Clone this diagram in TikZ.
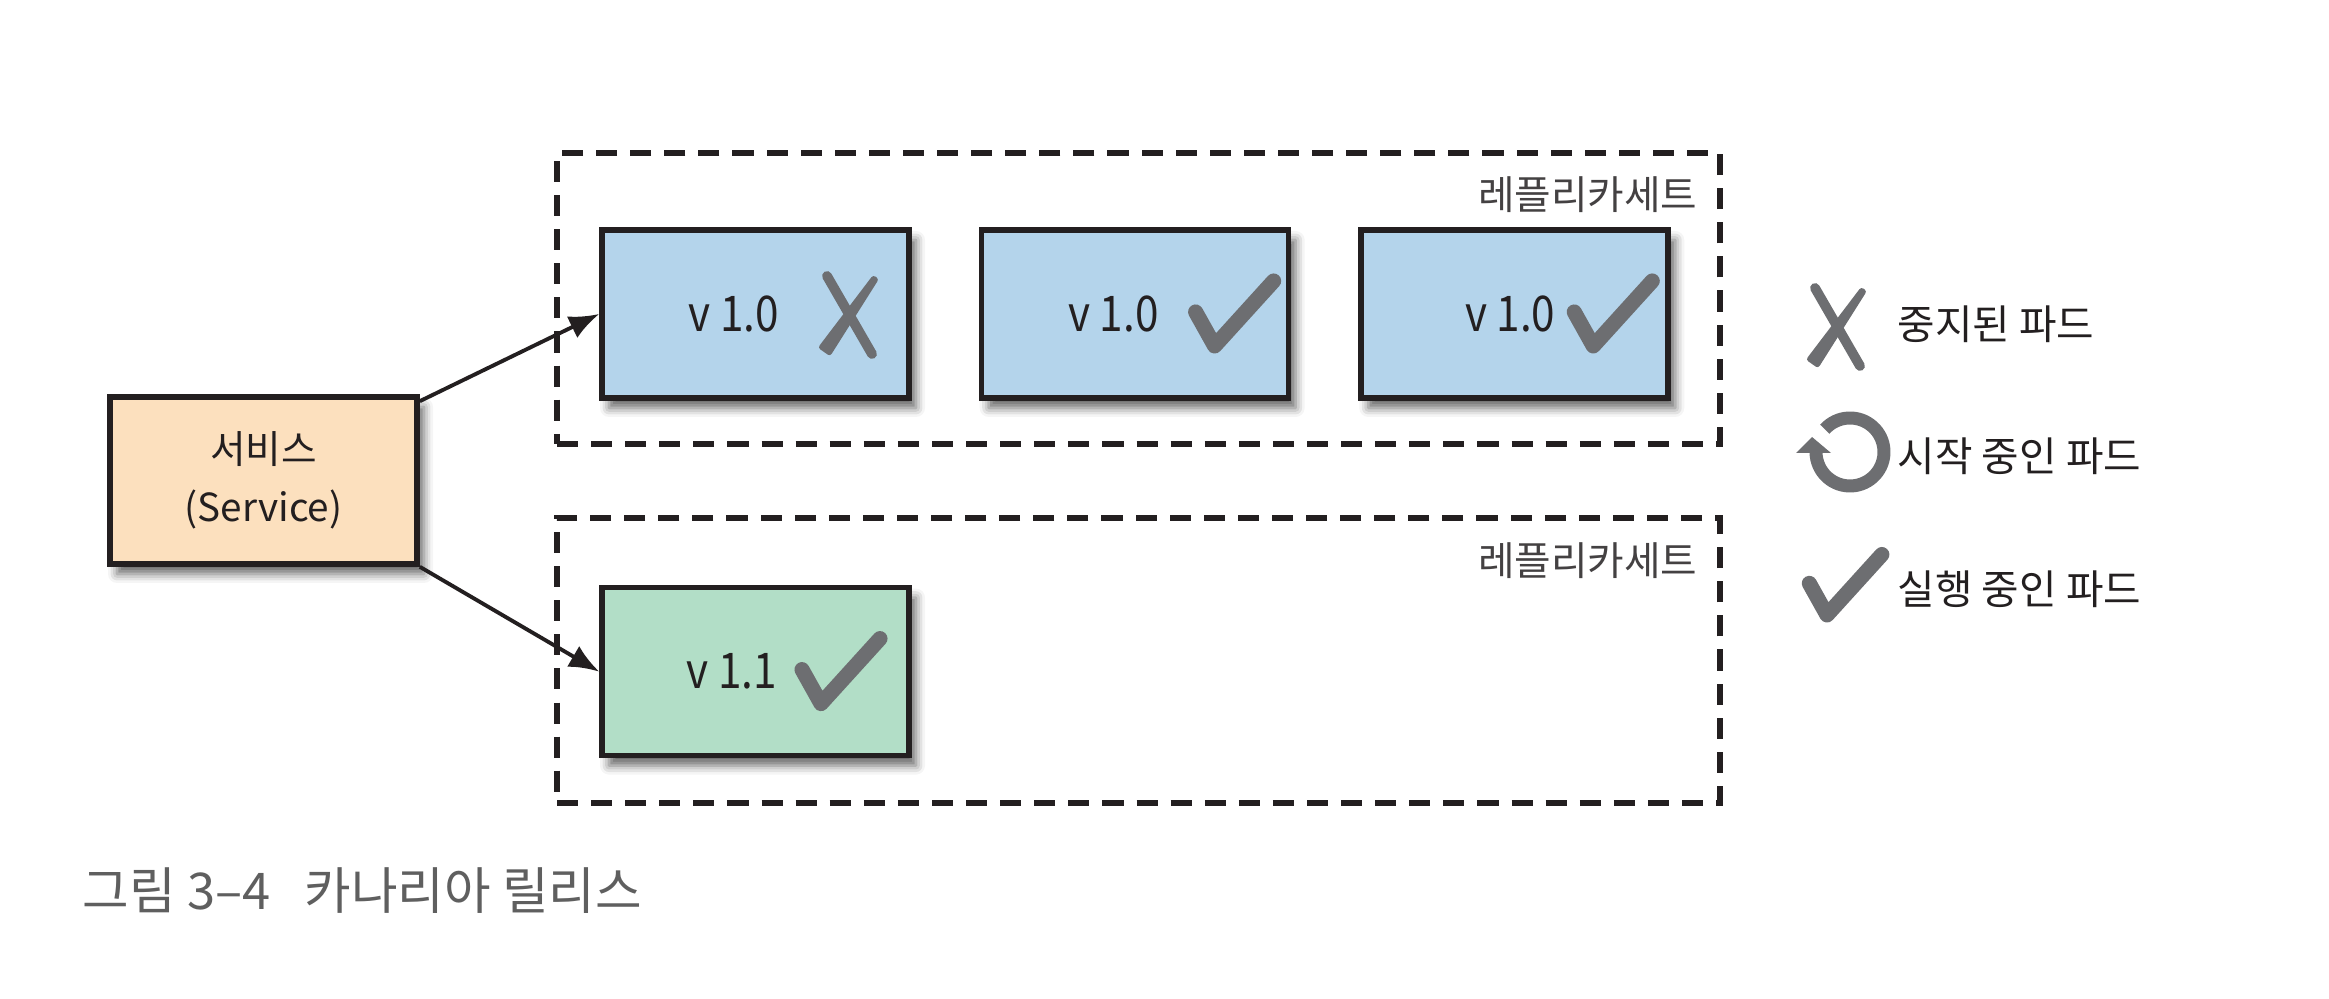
\documentclass[tikz,border=0pt]{standalone}
\usepackage{fontspec}
\setmainfont{Noto Sans CJK KR}
\newfontfamily\narrowfont[FakeStretch=0.86]{Noto Sans CJK KR}
\usetikzlibrary{positioning,arrows.meta,shadows.blur}

\definecolor{podblue}{RGB}{180,212,235}
\definecolor{podgreen}{RGB}{178,222,199}
\definecolor{svcorange}{RGB}{252,224,190}
\definecolor{icongray}{RGB}{109,110,113}
\definecolor{inkgray}{RGB}{35,31,32}
\definecolor{capgray}{RGB}{95,95,95}

\tikzset{
    podbox/.style={draw=inkgray, line width=1.6pt, minimum width=3.07cm, minimum height=1.68cm,
        blur shadow={shadow xshift=0.07cm, shadow yshift=-0.1cm, shadow blur radius=0.09cm, shadow opacity=60}},
    rsbox/.style={draw=inkgray, line width=1.7pt, dash pattern=on 6pt off 3.7pt, minimum width=11.63cm},
    verlabel/.style={inner sep=0pt, text=inkgray, font=\narrowfont\fontsize{14pt}{16pt}\selectfont},
    rslabel/.style={inner sep=0pt, anchor=east, text=inkgray!85, font=\fontsize{11.3pt}{13pt}\selectfont},
    legendtext/.style={inner sep=0pt, anchor=west, text=inkgray, font=\fontsize{11.6pt}{13pt}\selectfont},
    conn/.style={draw=inkgray, line width=1.1pt, -{Latex[length=0.3cm,width=0.24cm]}},
    okmark/.pic={
        \draw[icongray, line width=4.3pt, line cap=round, line join=round] (-0.19,0.34) -- (0,0) -- (0.59,0.65);
    },
    stopmark/.pic={
        \draw[icongray, line width=2.8pt, line cap=round] (-0.22,0.39) -- (0.23,-0.39);
        \fill[icongray, rounded corners=0.8pt] (0.299,0.360) -- (-0.189,-0.413) -- (-0.311,-0.327) -- (0.241,0.400) -- cycle;
    },
    restartmark/.pic={
        \draw[icongray, line width=0.13cm] (138:0.34) arc[start angle=138, end angle=-179, radius=0.34];
        \fill[icongray] (-0.54,-0.01) -- (-0.19,-0.01) -- (-0.38,0.15) -- cycle;
    }
}

\begin{document}
\begin{tikzpicture}
    \useasboundingbox (0,0) rectangle (23.29,9.99);

    % replica sets
    \node[rsbox, minimum height=2.91cm] (rs1) at (11.385,7.005) {};
    \node[rsbox, minimum height=2.85cm] (rs2) at (11.385,3.385) {};
    \node[rslabel] (rs1lbl) at ([xshift=-0.25cm,yshift=-0.45cm]rs1.north east) {레플리카세트};
    \node[rslabel] (rs2lbl) at ([xshift=-0.25cm,yshift=-0.46cm]rs2.north east) {레플리카세트};

    % service
    \node[podbox, fill=svcorange, minimum height=1.67cm, align=center, text=inkgray,
        font=\fontsize{11pt}{16.5pt}\selectfont] (svc) at (2.635,5.185) {서비스\\(Service)};

    % pods
    \node[podbox, fill=podblue] (pod1) at (7.555,6.85) {};
    \node[podbox, fill=podblue, right=0.67cm of pod1] (pod2) {};
    \node[podbox, fill=podblue, right=0.67cm of pod2] (pod3) {};
    \node[podbox, fill=podgreen, below=1.84cm of pod1] (pod4) {};

    \node[verlabel] (v1) at ([xshift=-0.215cm]pod1.center) {v 1.0};
    \node[verlabel] (v2) at ([xshift=-0.215cm]pod2.center) {v 1.0};
    \node[verlabel] (v3) at ([xshift=-0.045cm]pod3.center) {v 1.0};
    \node[verlabel] (v4) at ([xshift=-0.235cm]pod4.center) {v 1.1};

    \pic at ([xshift=0.935cm,yshift=-0.01cm]pod1.center) {stopmark};
    \foreach \p/\dx in {pod2/0.795, pod3/0.785, pod4/0.655}
        \pic at ([xshift=\dx cm,yshift=-0.32cm]\p.center) {okmark};

    % connectors
    \draw[conn] ([yshift=-0.07cm]svc.north east) -- (pod1.west);
    \draw[conn] (svc.south east) -- (pod4.west);

    % legend
    \pic at (18.37,6.72) {stopmark};
    \pic at (18.50,5.47) {restartmark};
    \pic[scale=0.93] at (18.27,3.84) {okmark};
    \node[legendtext] (lg1) at (18.97,6.75) {중지된 파드};
    \node[legendtext] (lg2) at (18.97,5.43) {시작 중인 파드};
    \node[legendtext] (lg3) at (18.97,4.10) {실행 중인 파드};

    % caption
    \node[inner sep=0pt, anchor=west, text=capgray, font=\fontsize{14.4pt}{16pt}\selectfont]
        (cap) at (0.82,1.08) {그림 3–4\hspace{0.45em} 카나리아 릴리스};
\end{tikzpicture}
\end{document}
